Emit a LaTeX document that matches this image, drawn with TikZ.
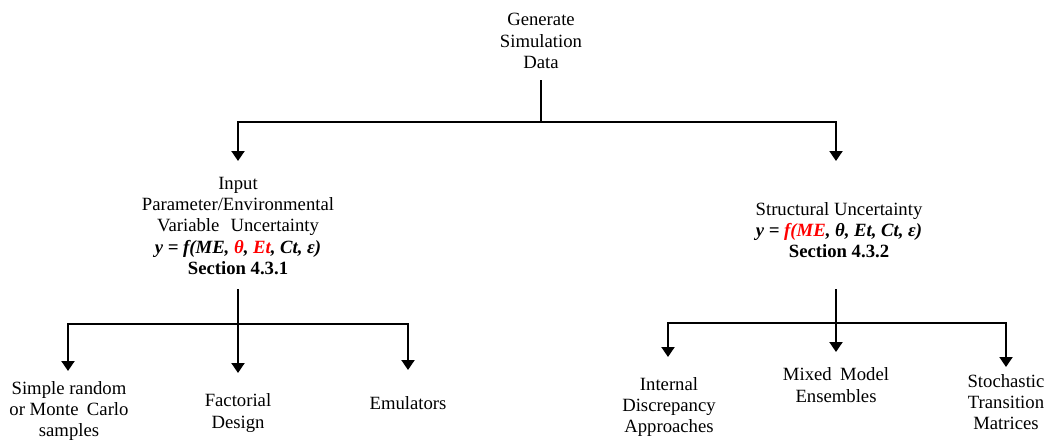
\documentclass[tikz,border=0pt]{standalone}
\usepackage{fontspec}
\setmainfont{Liberation Serif}
\usetikzlibrary{arrows.meta}
\definecolor{hl}{RGB}{255,0,0}
\tikzset{
  label/.style={align=center,inner sep=0pt,font=\fontsize{18.7}{21.2}\selectfont},
  wire/.style={line width=2pt,line join=miter,line cap=rect},
  tip/.style={wire,-{Triangle[width=13pt,length=10pt]}}
}
\newcommand{\fx}[1]{\textbf{\textit{#1}}}
\begin{document}
\begin{tikzpicture}[x=1pt,y=-1pt]
\useasboundingbox (0,0) rectangle (1048,442);

% root
\node[label] (gen) at (541,41) {Generate\\Simulation\\Data};

% second level
\node[label] (inp) at (238,226) {Input\\Parameter/Environmental\\Variable\hspace{0.6em}Uncertainty\\
  \fx{y = f(ME, {\color{hl}θ}, {\color{hl}Et}, Ct, ε)}\\\textbf{Section 4.3.1}};
\node[label] (str) at (839,230) {Structural Uncertainty\\
  \fx{y = {\color{hl}f(ME}, θ, Et, Ct, ε)}\\\textbf{Section 4.3.2}};

% leaves, left branch
\node[label] (srs) at (69,411) {Simple random\\or Monte\hspace{0.45em}Carlo\\samples};
\node[label] (fac) at (238,413) {Factorial\\Design};
\node[label] (emu) at (408,403) {Emulators};

% leaves, right branch
\node[label] (idr) at (669,407) {Internal\\Discrepancy\\Approaches};
\node[label] (mme) at (836,385) {Mixed\hspace{0.45em}Model\\Ensembles};
\node[label] (stm) at (1006,402) {Stochastic\\Transition\\Matrices};

% junction points
\coordinate (s0) at (541,81);
\coordinate (j0) at (541,122);
\coordinate (a1) at (238,161);
\coordinate (a2) at (836,161);

\coordinate (s1) at (238,290);
\coordinate (j1) at (238,324);
\coordinate (b1) at (68,371);
\coordinate (b2) at (238,373);
\coordinate (b3) at (408,370);

\coordinate (s2) at (836,290);
\coordinate (j2) at (836,323);
\coordinate (c1) at (668,357);
\coordinate (c2) at (836,352);
\coordinate (c3) at (1006,367);

% root to second level
\draw[wire] (s0) -- (j0);
\draw[tip] (j0) -| (a1);
\draw[tip] (j0) -| (a2);

% left branch
\draw[tip] (s1) -- (b2);
\draw[tip] (j1) -| (b1);
\draw[tip] (j1) -| (b3);

% right branch
\draw[tip] (s2) -- (c2);
\draw[tip] (j2) -| (c1);
\draw[tip] (j2) -| (c3);
\end{tikzpicture}
\end{document}
